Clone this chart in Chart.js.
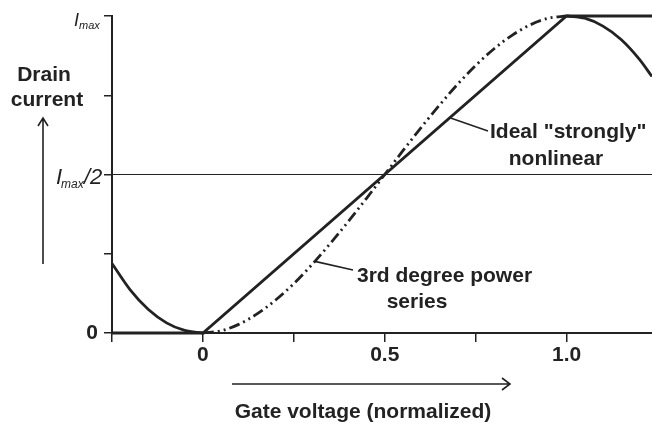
<!DOCTYPE html>
<html>
<head>
<meta charset="utf-8">
<script src="https://cdn.jsdelivr.net/npm/chart.js@4/dist/chart.umd.min.js"></script>
<style>
  html, body { margin: 0; padding: 0; background: #fff; }
  canvas { display: block; }
</style>
</head>
<body>
<canvas id="chart" width="652" height="426"></canvas>
<script>
// Gate voltage range (normalized) and tick positions
const xMin = -0.25;
const xMax = 1.235;
const xTicks = [-0.25, 0, 0.25, 0.5, 0.75, 1.0];
const xTickLabels = { 0: '0', 0.5: '0.5', 1: '1.0' };
const yTicks = [0, 0.25, 0.5, 0.75, 1];

// Ideal "strongly" nonlinear transfer (piecewise linear)
const idealX = [-0.25, 0, 1.0, 1.235];
const idealY = [0, 0, 1.0, 1.0];

// 3rd degree power series between 0 and 1 (dash-dot)
const cubicX = [0, 0.05, 0.1, 0.15, 0.2, 0.25, 0.3, 0.35, 0.4, 0.45, 0.5,
                0.55, 0.6, 0.65, 0.7, 0.75, 0.8, 0.85, 0.9, 0.95, 1.0];
const cubicY = [0, 0.007, 0.028, 0.061, 0.104, 0.156, 0.216, 0.282, 0.352, 0.425, 0.5,
                0.575, 0.648, 0.718, 0.784, 0.844, 0.896, 0.939, 0.972, 0.993, 1.0];

// Same series outside the 0..1 range (solid)
const leftX = [-0.25, -0.2, -0.15, -0.1, -0.05, 0];
const leftY = [0.219, 0.136, 0.074, 0.032, 0.008, 0];
const rightX = [1.0, 1.05, 1.1, 1.15, 1.2, 1.235];
const rightY = [1.0, 0.993, 0.968, 0.926, 0.864, 0.809];

const ink = '#222';
const fontFamily = '"Liberation Sans", Arial, sans-serif';

function toPoints(xs, ys) {
  return xs.map((x, i) => ({ x: x, y: ys[i] }));
}

function lineSet(data, width, opts) {
  return Object.assign({
    data: data,
    showLine: true,
    borderColor: ink,
    borderWidth: width,
    pointRadius: 0,
    tension: 0,
    clip: false,
  }, opts || {});
}

// Text, arrows and the I_max labels drawn on top of the chart
const annotations = {
  id: 'annotations',
  afterDraw(chart) {
    const { ctx, scales } = chart;
    const x = scales.x;
    const y = scales.y;
    const bold = (size) => 'bold ' + size + 'px ' + fontFamily;
    const italic = (size) => 'italic ' + size + 'px ' + fontFamily;

    ctx.save();
    ctx.fillStyle = ink;
    ctx.strokeStyle = ink;

    /* Y tick labels */
    const axisX = x.getPixelForValue(xMin);
    ctx.font = bold(21);
    ctx.textAlign = 'right';
    ctx.textBaseline = 'alphabetic';
    ctx.fillText('0', axisX - 14, y.getPixelForValue(0) + 6);

    ctx.textAlign = 'left';
    // I_max/2
    let py = y.getPixelForValue(0.5) + 9;
    ctx.font = italic(22);
    ctx.fillText('I', 56, py);
    ctx.font = italic(12);
    ctx.fillText('max', 61, py + 4);
    ctx.font = italic(22);
    ctx.fillText('/2', 84, py);
    // I_max
    py = y.getPixelForValue(1) + 10;
    ctx.font = italic(18);
    ctx.fillText('I', 74, py);
    ctx.font = italic(11);
    ctx.fillText('max', 79, py + 3);

    /* Axis titles */
    ctx.font = bold(21);
    ctx.textAlign = 'center';
    ctx.fillText('Drain', 44, 81);
    ctx.fillText('current', 47, 106);
    ctx.fillText('Gate voltage (normalized)', 363, 418);

    /* Arrows */
    ctx.lineWidth = 1.6;
    ctx.beginPath();
    ctx.moveTo(43, 264);
    ctx.lineTo(43, 118);
    ctx.moveTo(38, 126);
    ctx.lineTo(43, 118);
    ctx.lineTo(48, 126);
    ctx.moveTo(232, 384);
    ctx.lineTo(510, 384);
    ctx.moveTo(502, 378);
    ctx.lineTo(510, 384);
    ctx.lineTo(502, 390);
    ctx.stroke();

    /* Curve annotations with leader lines */
    ctx.lineWidth = 1.6;
    ctx.beginPath();
    ctx.moveTo(x.getPixelForValue(0.679), y.getPixelForValue(0.679));
    ctx.lineTo(488, 131);
    ctx.moveTo(x.getPixelForValue(0.308), y.getPixelForValue(0.226));
    ctx.lineTo(353, 270);
    ctx.stroke();

    ctx.font = bold(21);
    ctx.textAlign = 'left';
    ctx.fillText('Ideal "strongly"', 490, 138);
    ctx.textAlign = 'center';
    ctx.fillText('nonlinear', 556, 165);
    ctx.textAlign = 'left';
    ctx.fillText('3rd degree power', 357, 282);
    ctx.textAlign = 'center';
    ctx.fillText('series', 417, 308);

    ctx.restore();
  },
};

new Chart(document.getElementById('chart'), {
  type: 'scatter',
  data: {
    datasets: [
      lineSet([{ x: xMin, y: 0.5 }, { x: xMax, y: 0.5 }], 1.2),
      lineSet(toPoints(idealX, idealY), 2.8),
      lineSet(toPoints(cubicX, cubicY), 2.8, {
        cubicInterpolationMode: 'monotone',
        borderDash: [11, 4, 2, 4, 2, 4],
      }),
      lineSet(toPoints(leftX, leftY), 2.8, { cubicInterpolationMode: 'monotone' }),
      lineSet(toPoints(rightX, rightY), 2.8, { cubicInterpolationMode: 'monotone' }),
    ],
  },
  options: {
    responsive: false,
    animation: false,
    events: [],
    layout: { padding: { top: 16, right: 0, left: 0, bottom: 0 } },
    scales: {
      x: {
        type: 'linear',
        min: xMin,
        max: xMax,
        afterBuildTicks: (scale) => { scale.ticks = xTicks.map((v) => ({ value: v })); },
        afterFit: (scale) => { scale.height = 93; },
        grid: { drawOnChartArea: false, tickLength: 9, color: ink, lineWidth: 1.5 },
        border: { display: true, color: ink, width: 2 },
        ticks: {
          autoSkip: false,
          maxRotation: 0,
          padding: 1,
          color: ink,
          font: { family: fontFamily, size: 21, weight: 'bold' },
          callback: (value) => xTickLabels[value] || '',
        },
      },
      y: {
        type: 'linear',
        min: 0,
        max: 1,
        afterBuildTicks: (scale) => { scale.ticks = yTicks.map((v) => ({ value: v })); },
        afterFit: (scale) => { scale.width = 112; },
        grid: { drawOnChartArea: false, tickLength: 8, color: ink, lineWidth: 1.5 },
        border: { display: true, color: ink, width: 2 },
        ticks: { display: false },
      },
    },
    plugins: {
      legend: { display: false },
      tooltip: { enabled: false },
    },
  },
  plugins: [annotations],
});
</script>
</body>
</html>
